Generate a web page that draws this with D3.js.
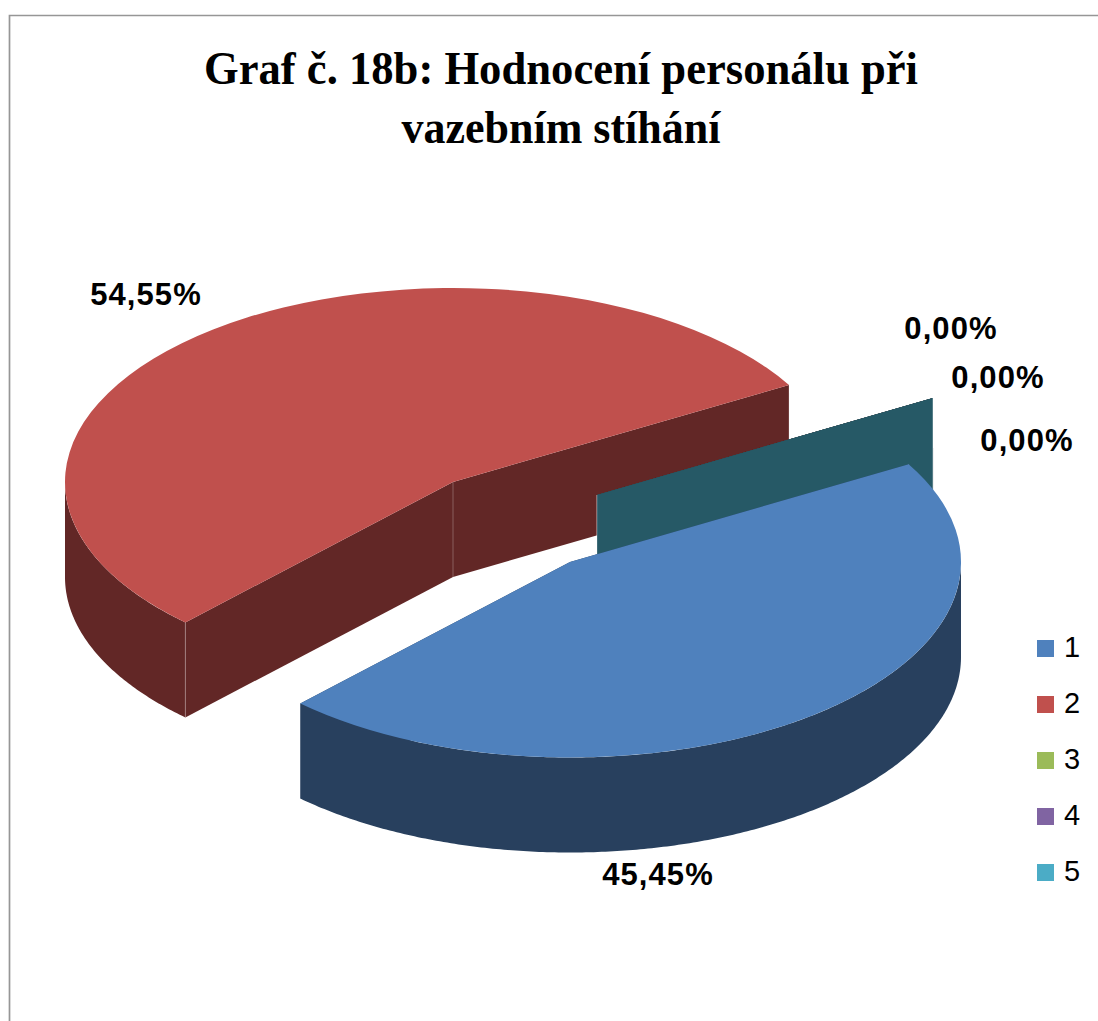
<!DOCTYPE html>
<meta charset="utf-8">
<style>
    html, body { margin: 0; padding: 0; background: #fff; }
    svg { display: block; }
    .title { font-family: "Liberation Serif", serif; font-weight: 700; font-size: 46px; text-anchor: middle; }
    .pct { font-family: "Liberation Sans", sans-serif; font-weight: 700; font-size: 31px; letter-spacing: 1.1px; text-anchor: middle; }
    .legend-label { font-family: "Liberation Sans", sans-serif; font-size: 29px; }
</style>
<svg width="1098" height="1021"></svg>
<script src="https://cdnjs.cloudflare.com/ajax/libs/d3/7.8.5/d3.min.js"></script>
<script>
    var categories = ["1", "2", "3", "4", "5"];
    var percents = [45.45, 54.55, 0, 0, 0];
    var topColors = ["#4f81bd", "#c0504d", "#9bbb59", "#8064a2", "#4bacc6"];
    var wallColors = ["#28405e", "#622726", "#4e5e2c", "#403251", "#265966"];
    var titleLines = ["Graf č. 18b: Hodnocení personálu při", "vazebním stíhání"];
    var titleWidths = [714, 319];

    var svg = d3.select("svg"),
        width = +svg.attr("width"),
        height = +svg.attr("height");

    var depth = 95,
        tilt = 0.5;

    // where each slice sits after the explosion, and its horizontal radius
    var centers = [[570, 562], [453, 482], [597, 495], [597, 495], [597, 495]];
    var radii = [391, 388, 388, 388, 388];
    // red first, blue last so it covers the zero slices
    var drawOrder = [1, 2, 3, 4, 0];

    // label anchors: middle x, baseline y
    var labelSpots = [[658, 885], [146, 305], [951, 339], [998, 388], [1027, 451]];

    var pie = d3.pie()
        .sort(null)
        .value(function(d) { return d; })
        .startAngle(Math.PI / 3)
        .endAngle(Math.PI / 3 + 2 * Math.PI);

    var slices = pie(percents);

    // frame, only top and left are visible in the picture
    svg.append("path")
        .attr("d", "M9.5," + height + "V15.5H" + width)
        .attr("fill", "none")
        .attr("stroke", "#969696")
        .attr("stroke-width", 1.7);

    svg.selectAll(".title")
        .data(titleLines)
        .enter().append("text")
        .attr("class", "title")
        .attr("x", 561)
        .attr("y", function(d, i) { return 84 + i * 59; })
        .attr("textLength", function(d, i) { return titleWidths[i]; })
        .attr("lengthAdjust", "spacingAndGlyphs")
        .text(function(d) { return d; });

    function rimPoint(angle, r) {
        return [r * Math.sin(angle), -r * tilt * Math.cos(angle)];
    }

    var line = d3.line();

    drawOrder.forEach(function(i) {
        var s = slices[i],
            r = radii[i],
            g = svg.append("g").attr("transform", "translate(" + centers[i] + ")"),
            a0 = rimPoint(s.startAngle, r),
            a1 = rimPoint(s.endAngle, r);

        // the two cut faces
        [a0, a1].forEach(function(p) {
            g.append("path")
                .attr("d", line([[0, 0], p, [p[0], p[1] + depth], [0, depth]]) + "Z")
                .attr("fill", wallColors[i]);
        });

        // outer wall, only the part turned to the viewer
        var from = Math.max(s.startAngle, Math.PI / 2),
            to = Math.min(s.endAngle, 3 * Math.PI / 2);
        if (to > from) {
            var angles = d3.range(from, to, 0.01).concat([to]);
            var upper = angles.map(function(a) { return rimPoint(a, r); });
            var lower = upper.map(function(p) { return [p[0], p[1] + depth]; }).reverse();
            g.append("path")
                .attr("d", line(upper.concat(lower)) + "Z")
                .attr("fill", wallColors[i]);
        }

        // thin light seams on the vertical edges
        [[0, 0], a0, a1].forEach(function(p) {
            g.append("line")
                .attr("x1", p[0]).attr("y1", p[1])
                .attr("x2", p[0]).attr("y2", p[1] + depth)
                .attr("stroke", "#fff")
                .attr("stroke-opacity", 0.25);
        });

        // top surface
        if (s.endAngle > s.startAngle) {
            g.append("path")
                .attr("transform", "scale(1," + tilt + ")")
                .attr("d", d3.arc().innerRadius(0).outerRadius(r)(s))
                .attr("fill", topColors[i]);
        }
    });

    svg.selectAll(".pct")
        .data(percents)
        .enter().append("text")
        .attr("class", "pct")
        .attr("x", function(d, i) { return labelSpots[i][0]; })
        .attr("y", function(d, i) { return labelSpots[i][1]; })
        .text(function(d) { return d3.format(".2f")(d).replace(".", ",") + "%"; });

    var legendY = d3.scalePoint()
        .domain(categories)
        .range([648.5, 872.5]);

    var legend = svg.selectAll(".legend")
        .data(categories)
        .enter().append("g")
        .attr("class", "legend")
        .attr("transform", function(d) { return "translate(1037," + legendY(d) + ")"; });

    legend.append("rect")
        .attr("y", -8.5)
        .attr("width", 17)
        .attr("height", 17)
        .attr("fill", function(d, i) { return topColors[i]; });

    legend.append("text")
        .attr("class", "legend-label")
        .attr("x", 27)
        .attr("y", 8)
        .text(function(d) { return d; });
</script>
